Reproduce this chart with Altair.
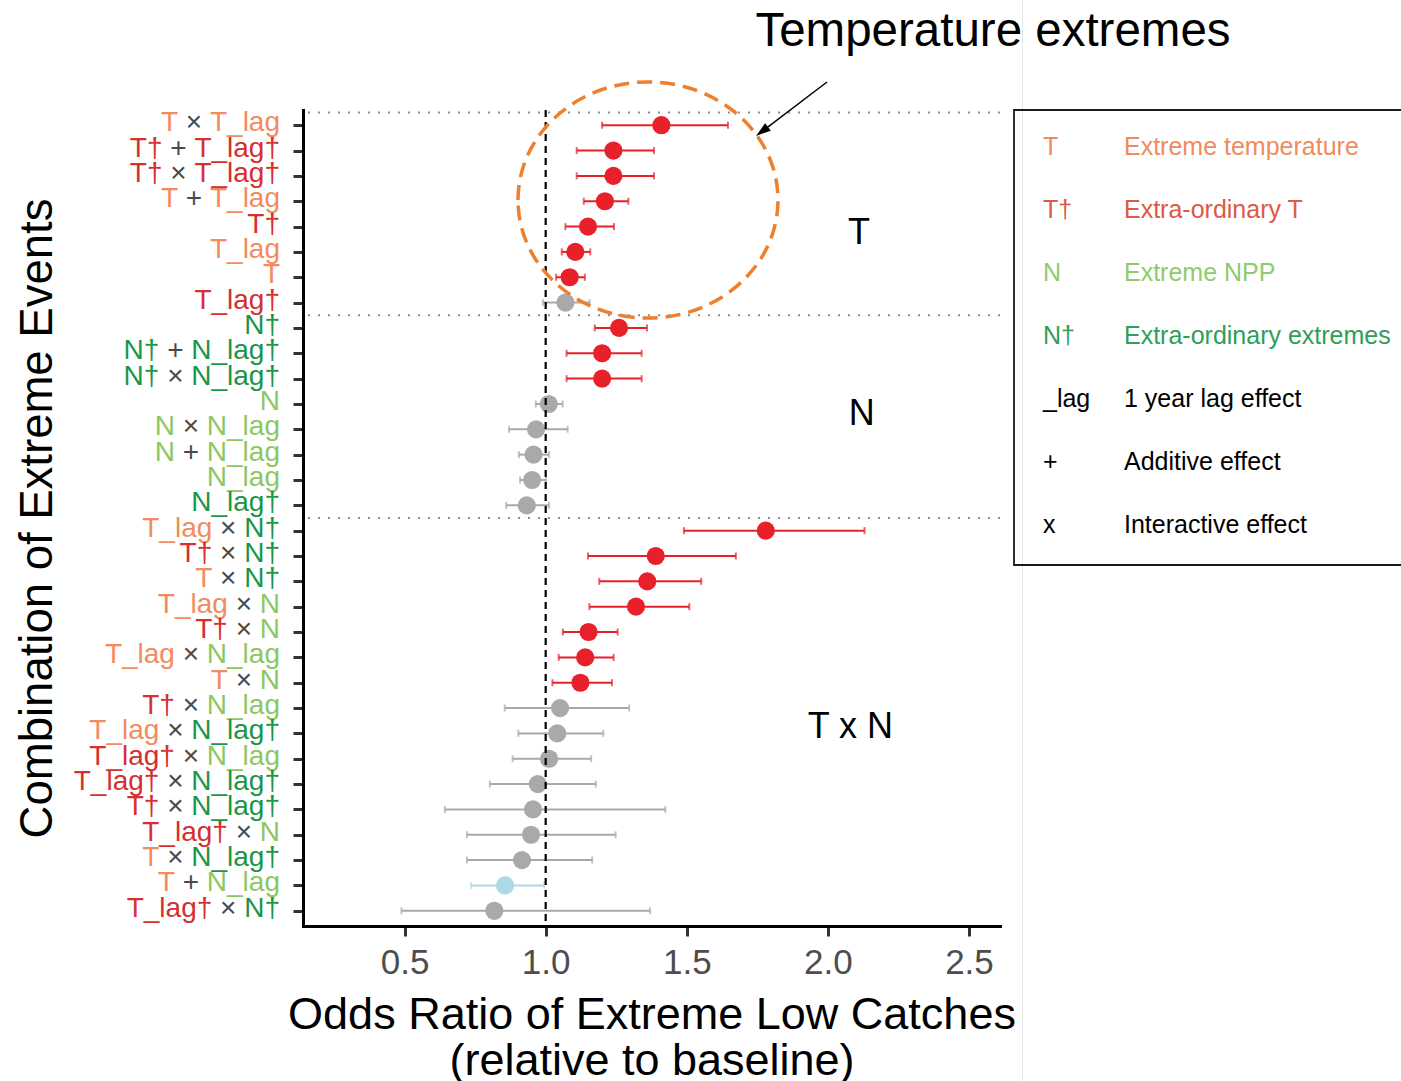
import math

import altair as alt
import numpy as np
import pandas as pd

# ---------------------------------------------------------------- data
labels = [
    "T × T_lag", "T† + T_lag†", "T† × T_lag†", "T + T_lag", "T†", "T_lag", "T", "T_lag†",
    "N†", "N† + N_lag†", "N† × N_lag†", "N", "N × N_lag", "N + N_lag", "N_lag", "N_lag†",
    "T_lag × N†", "T† × N†", "T × N†", "T_lag × N", "T† × N", "T_lag × N_lag", "T × N",
    "T† × N_lag", "T_lag × N_lag†", "T_lag† × N_lag", "T_lag† × N_lag†", "T† × N_lag†",
    "T_lag† × N", "T × N_lag†", "T + N_lag", "T_lag† × N†",
]
odds = [
    1.41, 1.24, 1.24, 1.21, 1.15, 1.105, 1.085, 1.07,
    1.26, 1.20, 1.20, 1.011, 0.966, 0.957, 0.952, 0.933,
    1.78, 1.39, 1.36, 1.32, 1.152, 1.14, 1.123,
    1.051, 1.041, 1.012, 0.972, 0.955, 0.948, 0.916, 0.856, 0.818,
]
lower = [
    1.20, 1.11, 1.11, 1.135, 1.07, 1.057, 1.037, 0.99,
    1.174, 1.074, 1.074, 0.965, 0.87, 0.905, 0.909, 0.86,
    1.49, 1.15, 1.19, 1.155, 1.061, 1.046, 1.024,
    0.855, 0.903, 0.883, 0.802, 0.643, 0.721, 0.721, 0.736, 0.489,
]
upper = [
    1.646, 1.384, 1.384, 1.293, 1.242, 1.158, 1.139, 1.156,
    1.359, 1.34, 1.34, 1.06, 1.078, 1.012, 1.001, 1.012,
    2.13, 1.674, 1.551, 1.509, 1.255, 1.241, 1.235,
    1.296, 1.204, 1.161, 1.178, 1.424, 1.248, 1.165, 0.995, 1.37,
]
group_breaks = [0.5, 8.5, 16.5]
x_ticks = [0.5, 1.0, 1.5, 2.0, 2.5]

group_text = ["T", "N", "T x N"]
group_x = [2.11, 2.12, 2.08]
group_row = [5.25, 12.4, 24.75]

legend_keys = ["T", "T†", "N", "N†", "_lag", "+", "x"]
legend_desc = [
    "Extreme temperature", "Extra-ordinary T", "Extreme NPP", "Extra-ordinary extremes",
    "1 year lag effect", "Additive effect", "Interactive effect",
]

# ---------------------------------------------------------------- style
FONT = "Liberation Sans"
W, H = 697, 816
T_COL, T_DAG = "#F28B5E", "#D62F2F"
N_COL, N_DAG = "#8CC763", "#1A9649"
OP_COL = "#4A4A4A"
legend_colors = ["#EE8C5E", "#DC5A46", "#8FCB6B", "#2F9E57", "black", "black", "black"]

LABEL_SIZE = 28
LABEL_RIGHT = -23
# advance widths (1/1000 em) of the glyphs used in the row labels
ADV = {"T": 611, "N": 722, "_": 556, "l": 222, "a": 556, "g": 556,
       "†": 556, " ": 278, "×": 584, "+": 584}


def text_width(s, size):
    return sum(ADV[c] for c in s) * size / 1000.0


def term_color(tok):
    if tok in ("×", "+"):
        return OP_COL
    if tok.startswith("T"):
        return T_DAG if "†" in tok else T_COL
    return N_DAG if "†" in tok else N_COL


# ---------------------------------------------------------------- tables
df = pd.DataFrame({"row": np.arange(1, len(labels) + 1), "label": labels,
                   "or": odds, "lo": lower, "hi": upper})
df["effect"] = np.where(df["lo"] > 1, "higher", np.where(df["hi"] < 1, "lower", "none"))

# each row label is split into coloured pieces, laid out right to left
segs = []
for i, lab in enumerate(labels, start=1):
    right = LABEL_RIGHT
    for tok in reversed(lab.split(" ")):
        segs.append({"row": i, "seg": tok, "color": term_color(tok), "px": right})
        right -= text_width(tok, LABEL_SIZE) + text_width(" ", LABEL_SIZE)
seg_df = pd.DataFrame(segs)

ann_df = pd.DataFrame({"t": group_text, "x": group_x, "row": group_row})
leg_df = pd.DataFrame({"key": legend_keys, "desc": legend_desc,
                       "color": legend_colors, "i": range(len(legend_keys))})
one = pd.DataFrame({"a": [0]})

# ---------------------------------------------------------------- scales/axes
xs = alt.Scale(domain=[0.14, 2.61], nice=False, zero=False)
ys = alt.Scale(domain=[0.4, 32.6], reverse=True, nice=False, zero=False)
cs = alt.Scale(domain=["higher", "none", "lower"], range=["#E8202A", "#A9A9A9", "#ADD8E6"])

x_axis = alt.Axis(
    values=x_ticks, format=".1f", grid=False,
    labelFontSize=35, labelColor="#4D4D4D", labelPadding=9,
    tickSize=10, tickWidth=3, tickColor="#333333",
    domainColor="black", domainWidth=3, domainCap="square",
    title=["Odds Ratio of Extreme Low Catches", "(relative to baseline)"],
    titleFontSize=45, titleFontWeight="normal", titleColor="black",
    titleLineHeight=46, titleBaseline="alphabetic", titleAlign="center",
    titleX=W / 2, titleY=102,
)
y_axis = alt.Axis(
    values=list(range(1, len(labels) + 1)), labels=False, grid=False,
    tickSize=10, tickWidth=3, tickColor="#333333",
    domainColor="black", domainWidth=3, domainCap="square",
    title="Combination of Extreme Events",
    titleFontSize=45.5, titleFontWeight="normal", titleColor="black",
    titleAngle=270, titleBaseline="alphabetic", titleAlign="center",
    titleX=-252, titleY=H / 2,
)

X = lambda f: alt.X(f, scale=xs, axis=x_axis)
Y = lambda f: alt.Y(f, scale=ys, axis=y_axis)
C = alt.Color("effect:N", scale=cs, legend=None)

base = alt.Chart(df)
bars = base.mark_rule(strokeWidth=2).encode(x=X("lo:Q"), x2="hi:Q", y=Y("row:Q"), color=C)
cap_lo = base.mark_tick(orient="vertical", size=7, thickness=2).encode(x=X("lo:Q"), y=Y("row:Q"), color=C)
cap_hi = base.mark_tick(orient="vertical", size=7, thickness=2).encode(x=X("hi:Q"), y=Y("row:Q"), color=C)
points = base.mark_circle(size=330, opacity=1).encode(x=X("or:Q"), y=Y("row:Q"), color=C)

vline = alt.Chart(pd.DataFrame({"x": [1.0]})).mark_rule(
    color="black", strokeWidth=2.2, strokeDash=[7, 5]
).encode(x=X("x:Q"))
seps = alt.Chart(pd.DataFrame({"y": group_breaks})).mark_rule(
    color="#8C8C8C", strokeWidth=2, strokeDash=[2, 8]
).encode(y=Y("y:Q"))
group_lbl = alt.Chart(ann_df).mark_text(
    fontSize=36, color="black", baseline="middle", align="center"
).encode(x=X("x:Q"), y=Y("row:Q"), text="t:N")

plot = alt.layer(bars, cap_lo, cap_hi, points, vline, seps, group_lbl)

row_labels = alt.Chart(seg_df).mark_text(
    align="right", baseline="alphabetic", dy=6, fontSize=LABEL_SIZE
).encode(
    x=alt.X("px:Q", scale=None, axis=None),
    y=alt.Y("row:Q", scale=ys, axis=None),
    text="seg:N",
    color=alt.Color("color:N", scale=None),
)

# ---------------------------------------------------------------- annotations
ELLIPSE = ("M -1 0 C -1 -0.5015 -0.5523 -0.908 0 -0.908 C 0.5523 -0.908 1 -0.5015 1 0 "
           "C 1 0.5015 0.5523 0.908 0 0.908 C -0.5523 0.908 -1 0.5015 -1 0 Z")
ellipse = alt.Chart(one).mark_point(
    shape=ELLIPSE, size=(2 * 130) ** 2, filled=False, color="#EE7F2D", stroke="#EE7F2D",
    strokeWidth=3.5, strokeDash=[15, 8], opacity=1,
).encode(x=alt.value(345), y=alt.value(90))

tail, tip = (524.0, -28.0), (453.0, 26.0)
dxv, dyv = tip[0] - tail[0], tip[1] - tail[1]
dl = math.hypot(dxv, dyv)
ux, uy = dxv / dl, dyv / dl
head_r = 9.4
head_c = (tip[0] - head_r * ux, tip[1] - head_r * uy)
head_angle = math.degrees(math.atan2(ux, -uy)) % 360
arrow_line = alt.Chart(one).mark_rule(color="black", strokeWidth=1.5).encode(
    x=alt.value(tail[0]), y=alt.value(tail[1]), x2=alt.value(head_c[0]), y2=alt.value(head_c[1])
)
arrow_head = alt.Chart(one).mark_point(
    shape="M 0 -1 L 0.5 0.6 L -0.5 0.6 Z", size=(2 * head_r) ** 2, filled=True,
    color="black", opacity=1, angle=head_angle,
).encode(x=alt.value(head_c[0]), y=alt.value(head_c[1]))

title_txt = alt.Chart(one).mark_text(
    fontSize=47.5, color="black", align="center", baseline="middle"
).encode(x=alt.value(690), y=alt.value(-78), text=alt.value("Temperature extremes"))

edge_line = alt.Chart(one).mark_rule(color="#E8E8E8", strokeWidth=1).encode(
    x=alt.value(719.5), y=alt.value(-110), y2=alt.value(971)
)

leg_box = alt.Chart(one).mark_rect(
    fill="white", fillOpacity=0, stroke="#1A1A1A", strokeWidth=1.8
).encode(x=alt.value(711), x2=alt.value(1120), y=alt.value(0), y2=alt.value(455))

leg_base = alt.Chart(leg_df).transform_calculate(py="37 + datum.i * 63")
leg_key = leg_base.mark_text(align="left", baseline="middle", fontSize=25).encode(
    x=alt.value(740), y=alt.Y("py:Q", scale=None, axis=None),
    text="key:N", color=alt.Color("color:N", scale=None),
)
leg_txt = leg_base.mark_text(align="left", baseline="middle", fontSize=25).encode(
    x=alt.value(821), y=alt.Y("py:Q", scale=None, axis=None),
    text="desc:N", color=alt.Color("color:N", scale=None),
)

chart = alt.layer(
    plot, row_labels, edge_line, leg_box, leg_key, leg_txt,
    ellipse, arrow_line, arrow_head, title_txt,
).resolve_scale(
    x="independent", y="independent", color="independent"
).properties(
    width=W, height=H,
    padding={"left": 303, "top": 110, "right": 401, "bottom": 155},
    autosize=alt.AutoSizeParams(type="none"),
).configure(
    font=FONT, background="white"
).configure_view(stroke="transparent")

chart.save("out.html", embed_options={"renderer": "svg", "actions": False})
